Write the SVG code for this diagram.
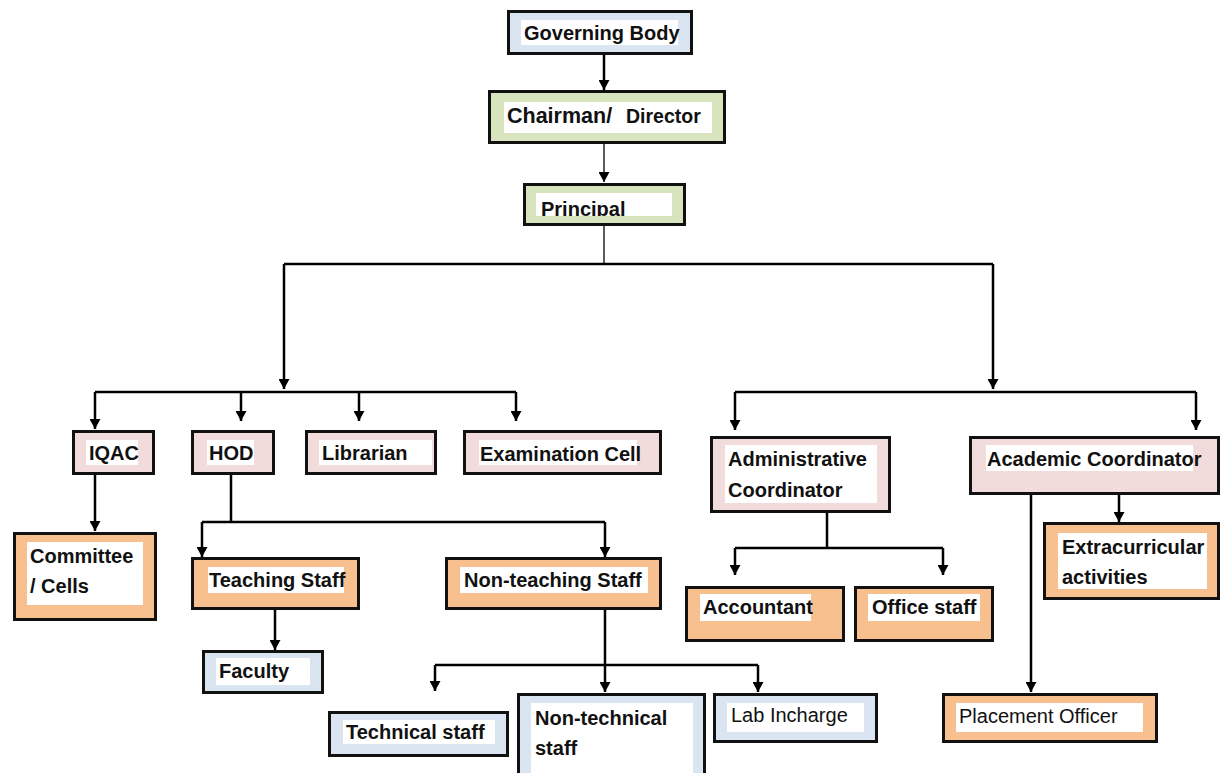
<svg xmlns="http://www.w3.org/2000/svg" width="1221" height="773" viewBox="0 0 1221 773">
<style>
.box{stroke:#111;stroke-width:3}
.blue{fill:#dbe5f1}.green{fill:#d7e4bd}.pink{fill:#f2dcdb}.orange{fill:#f9c08f}
.inner{fill:#fff}
.t{font-family:"Liberation Sans",Arial,sans-serif;font-weight:bold;font-size:20px;fill:#111}
.r{font-weight:normal}
.conn{fill:none;stroke:#000;stroke-width:2.5;marker-end:url(#arr)}
.line{fill:none;stroke:#000;stroke-width:2.5}
.thin{fill:none;stroke:#333;stroke-width:1.6}
</style>
<defs>
<marker id="arr" markerUnits="userSpaceOnUse" markerWidth="11" markerHeight="11" refX="10" refY="5.5" orient="auto">
<path d="M0,0 L10,5.5 L0,11 z" fill="#000"/>
</marker>
<clipPath id="pclip"><rect x="536" y="193" width="136" height="23"/></clipPath>
</defs>
<rect width="1221" height="773" fill="#fff"/>

<g id="connectors">
<path class="conn" d="M604,55 V90"/>
<path class="thin" d="M604,144 V182" marker-end="url(#arr)"/>
<path class="thin" d="M604,226 V264"/>
<path class="line" d="M284,264 H993"/>
<path class="conn" d="M284,264 V389"/>
<path class="conn" d="M993,264 V389"/>
<path class="line" d="M95,392 H516"/>
<path class="conn" d="M95,392 V429"/>
<path class="conn" d="M241,392 V421"/>
<path class="conn" d="M359,392 V421"/>
<path class="conn" d="M516,392 V421"/>
<path class="line" d="M735,392 H1196"/>
<path class="conn" d="M735,392 V430"/>
<path class="conn" d="M1196,392 V430"/>
<path class="conn" d="M95,475 V531"/>
<path class="line" d="M231,475 V522"/>
<path class="line" d="M202,522 H605"/>
<path class="conn" d="M202,522 V557"/>
<path class="conn" d="M605,522 V557"/>
<path class="conn" d="M275,610 V650"/>
<path class="conn" d="M605,610 V692"/>
<path class="line" d="M435,665 H758"/>
<path class="conn" d="M435,665 V691"/>
<path class="conn" d="M758,665 V692"/>
<path class="line" d="M827,513 V548"/>
<path class="line" d="M735,548 H943"/>
<path class="conn" d="M735,548 V575"/>
<path class="conn" d="M943,548 V575"/>
<path class="conn" d="M1119,495 V522"/>
<path class="conn" d="M1031,495 V692"/>
</g>

<g id="governing-body">
<rect class="box blue" x="508.5" y="11.5" width="183" height="42"/>
<rect class="inner" x="521" y="20" width="157" height="25"/>
<text class="t" x="524" y="40">Governing Body</text>
</g>

<g id="chairman">
<rect class="box green" x="489.5" y="91.5" width="235" height="51"/>
<rect class="inner" x="504" y="102" width="208" height="31"/>
<text class="t" x="507" y="123"><tspan font-size="21.5">Chairman/</tspan><tspan x="626" font-size="19.5">Director</tspan></text>
</g>

<g id="principal">
<rect class="box green" x="524.5" y="184.5" width="160" height="40"/>
<rect class="inner" x="536" y="193" width="136" height="23"/>
<text class="t" x="541" y="216" font-size="21" clip-path="url(#pclip)">Principal</text>
</g>

<g id="iqac">
<rect class="box pink" x="73.5" y="431.5" width="80" height="42"/>
<rect class="inner" x="86" y="440" width="52" height="25"/>
<text class="t" x="89" y="460">IQAC</text>
</g>

<g id="hod">
<rect class="box pink" x="192.5" y="431.5" width="81" height="42"/>
<rect class="inner" x="207" y="440" width="47" height="25"/>
<text class="t" x="209" y="460">HOD</text>
</g>

<g id="librarian">
<rect class="box pink" x="306.5" y="431.5" width="129" height="42"/>
<rect class="inner" x="319" y="440" width="113" height="25"/>
<text class="t" x="322" y="460">Librarian</text>
</g>

<g id="examination-cell">
<rect class="box pink" x="464.5" y="431.5" width="196" height="42"/>
<rect class="inner" x="479" y="440" width="158" height="25"/>
<text class="t" x="480" y="461">Examination Cell</text>
</g>

<g id="administrative-coordinator">
<rect class="box pink" x="711.5" y="437.5" width="178" height="74"/>
<rect class="inner" x="725" y="445" width="152" height="58"/>
<text class="t" x="728" y="466">Administrative</text>
<text class="t" x="728" y="497">Coordinator</text>
</g>

<g id="academic-coordinator">
<rect class="box pink" x="970.5" y="437.5" width="248" height="56"/>
<rect class="inner" x="986" y="445" width="207" height="26"/>
<text class="t" x="987" y="466">Academic Coordinator</text>
</g>

<g id="committee">
<rect class="box orange" x="14.5" y="533.5" width="141" height="86"/>
<rect class="inner" x="27" y="542" width="116" height="63"/>
<text class="t" x="30" y="563">Committee</text>
<text class="t" x="30" y="593">/ Cells</text>
</g>

<g id="teaching-staff">
<rect class="box orange" x="192.5" y="558.5" width="166" height="50"/>
<rect class="inner" x="208" y="567" width="136" height="26"/>
<text class="t" x="209" y="587">Teaching Staff</text>
</g>

<g id="non-teaching-staff">
<rect class="box orange" x="446.5" y="558.5" width="214" height="50"/>
<rect class="inner" x="460" y="567" width="188" height="26"/>
<text class="t" x="464" y="587">Non-teaching Staff</text>
</g>

<g id="extracurricular">
<rect class="box orange" x="1044.5" y="523.5" width="174" height="75"/>
<rect class="inner" x="1058" y="533" width="149" height="56"/>
<text class="t" x="1062" y="554">Extracurricular</text>
<text class="t" x="1062" y="584">activities</text>
</g>

<g id="accountant">
<rect class="box orange" x="686.5" y="587.5" width="157" height="53"/>
<rect class="inner" x="700" y="594" width="111" height="27"/>
<text class="t" x="703" y="614">Accountant</text>
</g>

<g id="office-staff">
<rect class="box orange" x="855.5" y="587.5" width="137" height="53"/>
<rect class="inner" x="868" y="594" width="112" height="27"/>
<text class="t" x="872" y="614">Office staff</text>
</g>

<g id="faculty">
<rect class="box blue" x="203.5" y="651.5" width="119" height="41"/>
<rect class="inner" x="216" y="658" width="94" height="27"/>
<text class="t" x="219" y="678">Faculty</text>
</g>

<g id="technical-staff">
<rect class="box blue" x="329.5" y="712.5" width="178" height="43"/>
<rect class="inner" x="343" y="720" width="152" height="24"/>
<text class="t" x="346" y="739">Technical staff</text>
</g>

<g id="non-technical-staff">
<rect class="box blue" x="518.5" y="694.5" width="186" height="90"/>
<rect class="inner" x="531" y="703" width="162" height="75"/>
<text class="t" x="535" y="725">Non-technical</text>
<text class="t" x="535" y="755">staff</text>
</g>

<g id="lab-incharge">
<rect class="box blue" x="714.5" y="694.5" width="162" height="47"/>
<rect class="inner" x="727" y="703" width="137" height="29"/>
<text class="t r" x="731" y="722">Lab Incharge</text>
</g>

<g id="placement-officer">
<rect class="box orange" x="943.5" y="694.5" width="213" height="47"/>
<rect class="inner" x="956" y="703" width="187" height="29"/>
<text class="t r" x="959" y="723" font-size="21">Placement Officer</text>
</g>
</svg>
